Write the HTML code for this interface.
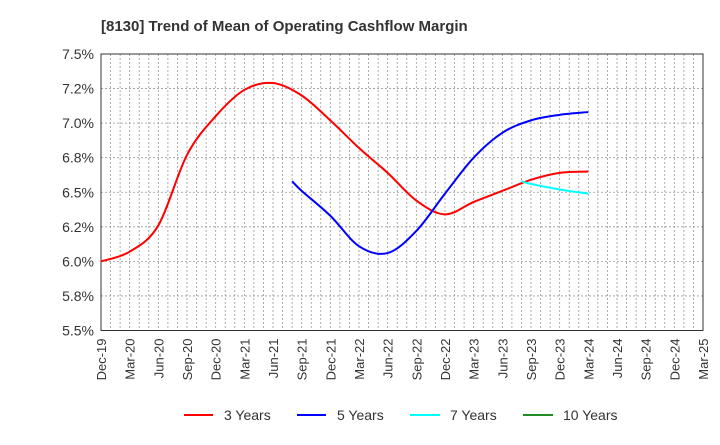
<!DOCTYPE html>
<html><head><meta charset="utf-8"><style>
body{margin:0;background:#fff;font-family:"Liberation Sans",Arial,sans-serif;}
</style></head><body>
<svg id="chart" width="720" height="440" xmlns="http://www.w3.org/2000/svg">
<text x="101" y="31" font-size="15" font-weight="bold" fill="#333">[8130]  Trend of Mean of Operating Cashflow Margin</text>
<g id="grid"></g><g id="axes"></g><g id="series"></g>
<g id="legend">
<g><line x1="184" y1="415" x2="213" y2="415" stroke="#ff0000" stroke-width="2"/><text x="224" y="420" font-size="14" fill="#333">3 Years</text></g>
<g><line x1="297" y1="415" x2="326" y2="415" stroke="#0000ff" stroke-width="2"/><text x="337" y="420" font-size="14" fill="#333">5 Years</text></g>
<g><line x1="410" y1="415" x2="440" y2="415" stroke="#00ffff" stroke-width="2"/><text x="450" y="420" font-size="14" fill="#333">7 Years</text></g>
<g><line x1="523" y1="415" x2="553" y2="415" stroke="#228b22" stroke-width="2"/><text x="563" y="420" font-size="14" fill="#333">10 Years</text></g>
</g>
</svg>
<script>
const xLabels=["Dec-19","Mar-20","Jun-20","Sep-20","Dec-20","Mar-21","Jun-21","Sep-21","Dec-21","Mar-22","Jun-22","Sep-22","Dec-22","Mar-23","Jun-23","Sep-23","Dec-23","Mar-24","Jun-24","Sep-24","Dec-24","Mar-25"];
const yTicks=[5.5,5.75,6.0,6.25,6.5,6.75,7.0,7.25,7.5];
const yLabels=["5.5%","5.8%","6.0%","6.2%","6.5%","6.8%","7.0%","7.2%","7.5%"];
// months since Dec-19
const m3=[0,3,6,9,12,15,18,21,24,27,30,33,36,39,42,45,48,51];
const v3=[6.0,6.07,6.26,6.77,7.05,7.24,7.29,7.20,7.02,6.82,6.64,6.44,6.34,6.43,6.51,6.59,6.64,6.65];
const m5=[20,21,24,27,30,33,36,39,42,45,48,51];
const v5=[6.58,6.51,6.33,6.11,6.06,6.22,6.49,6.75,6.93,7.02,7.06,7.08];
const m7=[44,45,48,51];
const v7=[6.58,6.56,6.52,6.49];
const L=101,R=703,T=54,B=330.5;
const X=m=>L+m*(R-L)/63;
const Y=v=>B-(v-5.5)*(B-T)/2;
const NS="http://www.w3.org/2000/svg";
function mk(p,t,a){const e=document.createElementNS(NS,t);for(const k in a)e.setAttribute(k,a[k]);p.appendChild(e);return e;}
const grid=document.getElementById('grid'),axes=document.getElementById('axes'),ser=document.getElementById('series');
for(let m=1;m<63;m++){const g=mk(grid,'line',{x1:X(m),x2:X(m),y1:T,y2:B,stroke:'#999','stroke-dasharray':'2,2','stroke-width':0.8});

}
yTicks.forEach((v,i)=>{const g=mk(grid,'line',{x1:L,x2:R,y1:Y(v),y2:Y(v),stroke:'#999','stroke-dasharray':'2,2','stroke-width':0.8});


const t=mk(axes,'text',{x:L-7,y:Y(v)+5,'text-anchor':'end','font-size':14,fill:'#333'});t.textContent=yLabels[i];

});
xLabels.forEach((s,i)=>{const x=X(i*3);const t=mk(axes,'text',{transform:`translate(${x+5},${B+8}) rotate(-90)`,'text-anchor':'end','font-size':13,fill:'#333'});t.textContent=s;

});
const fr=mk(axes,'rect',{x:L,y:T,width:R-L,height:B-T,fill:'none',stroke:'#333','stroke-width':1});


function path(ms,vs){const p=ms.map((m,i)=>[X(m),Y(vs[i])]);let d=`M${p[0][0]},${p[0][1]}`;
for(let i=0;i<p.length-1;i++){const p0=p[i-1]||p[i],p1=p[i],p2=p[i+1],p3=p[i+2]||p2;
d+=` C${p1[0]+(p2[0]-p0[0])/6},${p1[1]+(p2[1]-p0[1])/6} ${p2[0]-(p3[0]-p1[0])/6},${p2[1]-(p3[1]-p1[1])/6} ${p2[0]},${p2[1]}`;}return d;}
[[m3,v3,'#ff0000','series-3-years'],[m5,v5,'#0000ff','series-5-years'],[m7,v7,'#00ffff','series-7-years']].forEach(s=>{
const e=mk(ser,'path',{d:path(s[0],s[1]),fill:'none',stroke:s[2],'stroke-width':2});

});
</script>
</body></html>
